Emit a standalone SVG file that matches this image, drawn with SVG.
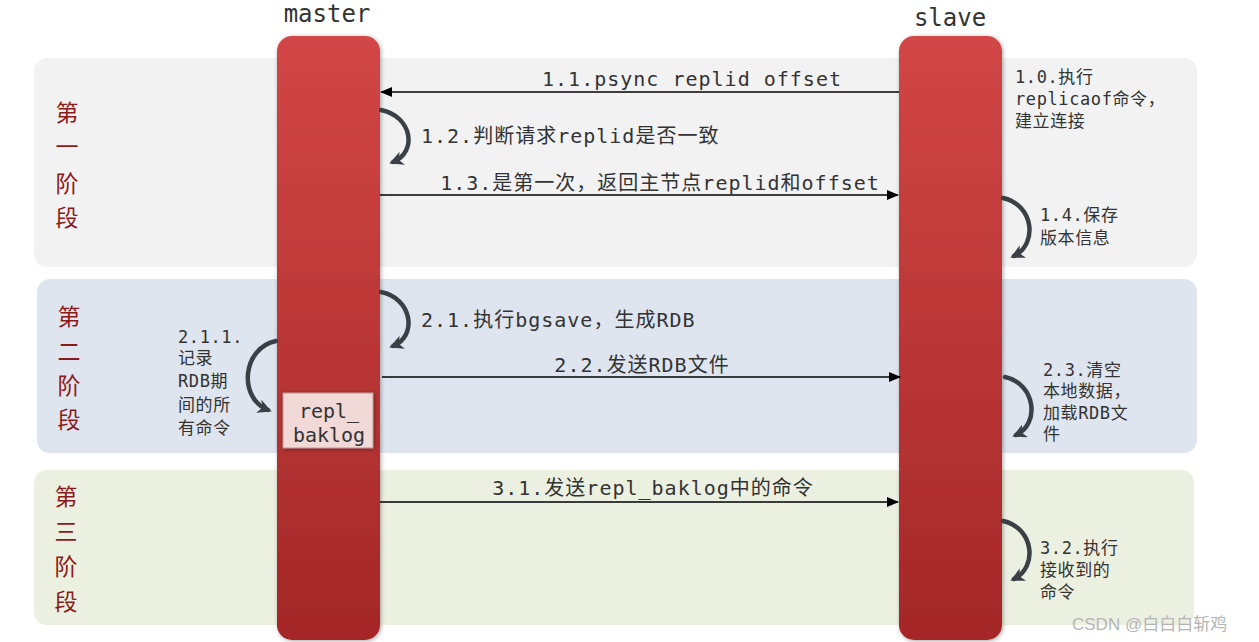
<svg xmlns="http://www.w3.org/2000/svg" width="1259" height="642" viewBox="0 0 1259 642">
<defs>
<linearGradient id="bar" x1="0" y1="0" x2="0" y2="1">
<stop offset="0" stop-color="#d24646"/>
<stop offset="1" stop-color="#a42727"/>
</linearGradient>
<marker id="ah" viewBox="0 0 12 10" refX="11" refY="5" markerWidth="12" markerHeight="10" markerUnits="userSpaceOnUse" orient="auto">
<path d="M0,0 L12,5 L0,10 Z" fill="#000"/>
</marker>
<marker id="ch" viewBox="0 0 14 14" refX="10" refY="7" markerWidth="14" markerHeight="14" markerUnits="userSpaceOnUse" orient="auto">
<path d="M0,0 L14,7 L0,14 L4,7 Z" fill="#3a4045"/>
</marker>
<filter id="sh" x="-20%" y="-20%" width="140%" height="140%">
<feGaussianBlur in="SourceAlpha" stdDeviation="2"/>
<feOffset dx="1" dy="1"/>
<feComponentTransfer><feFuncA type="linear" slope="0.35"/></feComponentTransfer>
<feMerge><feMergeNode/><feMergeNode in="SourceGraphic"/></feMerge>
</filter>
</defs>
<style>
.mono{font-family:"DejaVu Sans Mono","Liberation Mono","Noto Sans CJK SC",monospace;fill:#333}
.lbl{font-size:20px;letter-spacing:1px}
.sm{font-size:17px;letter-spacing:0.6px}
.phase{font-family:"Noto Sans CJK SC",sans-serif;font-size:23px;fill:#8b1a1a}
.head{font-family:"DejaVu Sans Mono","Liberation Mono",monospace;font-size:24px;fill:#333}
.line{stroke:#000;stroke-width:1.3;fill:none}
.curve{stroke:#3a4045;stroke-width:4.5;fill:none;stroke-linecap:round}
</style>
<rect width="1259" height="642" fill="#fff"/>
<g id="phase1">
<rect x="34" y="58" width="1163" height="209" rx="13" fill="#f2f2f2"/>
<text class="phase" x="67" y="121" text-anchor="middle">第</text>
<text class="phase" x="67" y="155" text-anchor="middle">一</text>
<text class="phase" x="67" y="192" text-anchor="middle">阶</text>
<text class="phase" x="67" y="226" text-anchor="middle">段</text>
</g>
<g id="phase2">
<rect x="37" y="279" width="1160" height="174" rx="13" fill="#dfe5ef"/>
<text class="phase" x="69" y="325" text-anchor="middle">第</text>
<text class="phase" x="69" y="360" text-anchor="middle">二</text>
<text class="phase" x="69" y="394" text-anchor="middle">阶</text>
<text class="phase" x="69" y="428" text-anchor="middle">段</text>
</g>
<g id="phase3">
<rect x="34" y="470" width="1160" height="155" rx="13" fill="#ecf0e1"/>
<text class="phase" x="66" y="505" text-anchor="middle">第</text>
<text class="phase" x="66" y="540" text-anchor="middle">三</text>
<text class="phase" x="66" y="575" text-anchor="middle">阶</text>
<text class="phase" x="66" y="610" text-anchor="middle">段</text>
</g>
<g id="master">
<text class="head" x="327" y="22" text-anchor="middle">master</text>
<rect x="277" y="36" width="103" height="604" rx="15" fill="url(#bar)" filter="url(#sh)"/>
</g>
<g id="slave">
<text class="head" x="950" y="26" text-anchor="middle">slave</text>
<rect x="899" y="36" width="103" height="604" rx="15" fill="url(#bar)" filter="url(#sh)"/>
</g>
<g id="repl_baklog">
<rect x="283" y="393" width="90" height="55" fill="#f0d9d6" stroke="#b89a96" stroke-width="1" filter="url(#sh)"/>
<text class="mono" x="329" y="418" font-size="20" text-anchor="middle">repl_</text>
<text class="mono" x="329" y="442" font-size="20" text-anchor="middle">baklog</text>
</g>
<g id="connectors">
<line class="line" x1="899" y1="92" x2="381" y2="92" marker-end="url(#ah)"/>
<path class="curve" d="M381,110 C412,116 418,152 393,162" marker-end="url(#ch)"/>
<line class="line" x1="380" y1="195" x2="898" y2="195" marker-end="url(#ah)"/>
<path class="curve" d="M1003,198 C1034,205 1038,244 1014,256" marker-end="url(#ch)"/>
<path class="curve" d="M381,292 C412,298 418,336 393,346" marker-end="url(#ch)"/>
<path class="curve" d="M276,341 C242,348 238,398 268,410" marker-end="url(#ch)"/>
<line class="line" x1="382" y1="377" x2="900" y2="377" marker-end="url(#ah)"/>
<path class="curve" d="M1005,377 C1036,384 1040,424 1016,435" marker-end="url(#ch)"/>
<line class="line" x1="380" y1="502" x2="898" y2="502" marker-end="url(#ah)"/>
<path class="curve" d="M1003,521 C1034,528 1038,567 1014,579" marker-end="url(#ch)"/>
</g>
<g id="labels">
<text class="mono lbl" x="692" y="86" text-anchor="middle">1.1.psync replid offset</text>
<text class="mono lbl" x="421" y="143">1.2.判断请求replid是否一致</text>
<text class="mono lbl" x="660" y="190" text-anchor="middle">1.3.是第一次，返回主节点replid和offset</text>
<text class="mono sm" x="1015" y="83">1.0.执行</text>
<text class="mono sm" x="1015" y="105">replicaof命令，</text>
<text class="mono sm" x="1015" y="127">建立连接</text>
<text class="mono sm" x="1040" y="221">1.4.保存</text>
<text class="mono sm" x="1040" y="244">版本信息</text>
<text class="mono lbl" x="421" y="327">2.1.执行bgsave，生成RDB</text>
<text class="mono sm" x="178" y="343">2.1.1.</text>
<text class="mono sm" x="178" y="364">记录</text>
<text class="mono sm" x="178" y="387">RDB期</text>
<text class="mono sm" x="178" y="411">间的所</text>
<text class="mono sm" x="178" y="434">有命令</text>
<text class="mono lbl" x="642" y="372" text-anchor="middle">2.2.发送RDB文件</text>
<text class="mono sm" x="1043" y="376">2.3.清空</text>
<text class="mono sm" x="1043" y="397">本地数据，</text>
<text class="mono sm" x="1043" y="419">加载RDB文</text>
<text class="mono sm" x="1043" y="440">件</text>
<text class="mono lbl" x="653" y="495" text-anchor="middle">3.1.发送repl_baklog中的命令</text>
<text class="mono sm" x="1040" y="554">3.2.执行</text>
<text class="mono sm" x="1040" y="576">接收到的</text>
<text class="mono sm" x="1040" y="598">命令</text>
<text x="1072" y="630" font-family="'Liberation Sans','Noto Sans CJK SC',sans-serif" font-size="17" fill="#b5b5b5">CSDN @白白白斩鸡</text>
</g>
</svg>
